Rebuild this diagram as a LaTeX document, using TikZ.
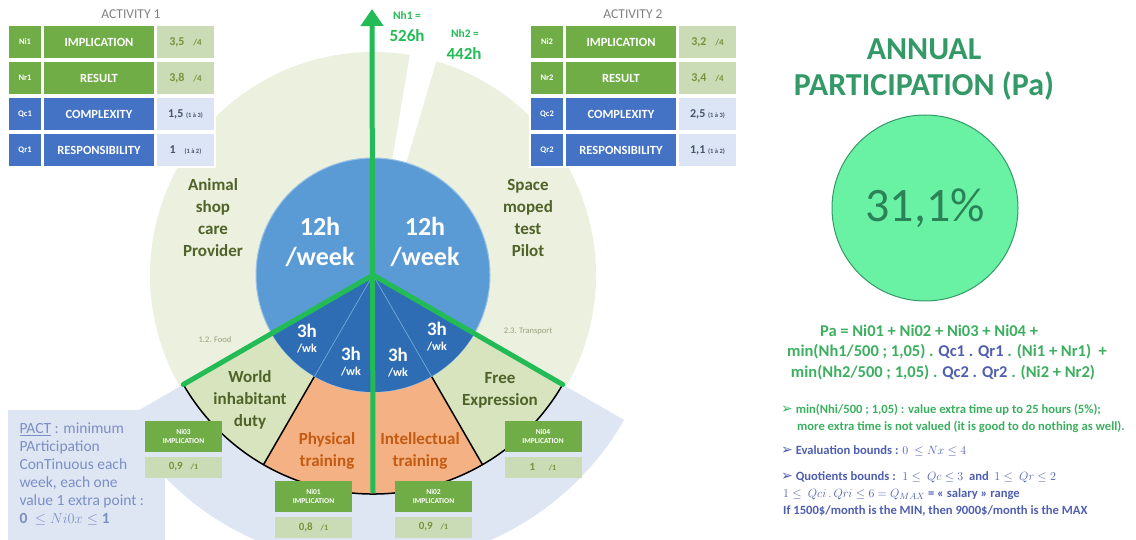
\documentclass[tikz,border=0pt]{standalone}
\usepackage{fontspec}
\setmainfont{Carlito}
\newfontfamily\symfont{DejaVu Sans}
\usetikzlibrary{arrows.meta}
\definecolor{paleolive}{HTML}{EBF1DE}
\definecolor{paleblue}{HTML}{DEE6F4}
\definecolor{midblue}{HTML}{5B9BD5}
\definecolor{deepblue}{HTML}{2E6DB4}
\definecolor{olivebg}{HTML}{D7E4BD}
\definecolor{salmon}{HTML}{F4B183}
\definecolor{brightgreen}{HTML}{22BB55}
\definecolor{tabgreen}{HTML}{70AD47}
\definecolor{tablightgreen}{HTML}{C9DCB5}
\definecolor{tabblue}{HTML}{4472C4}
\definecolor{tablightblue}{HTML}{DCE5F5}
\definecolor{olivetext}{HTML}{4F6228}
\definecolor{valtext}{HTML}{76923C}
\definecolor{bluetext}{HTML}{44546A}
\definecolor{orangetext}{HTML}{C55A11}
\definecolor{titlegreen}{HTML}{339966}
\definecolor{mint}{HTML}{6AF2A4}
\definecolor{formgreen}{HTML}{3CAF5F}
\definecolor{formblue}{HTML}{4F5FB0}
\definecolor{pactblue}{HTML}{7B8FC4}
\newcommand{\fs}[2]{\fontsize{#1}{#2}\selectfont}
\newcommand{\critrow}[9]{%
  \node[cellbox, fill=#7, minimum width=34pt, font=\bfseries\fs{8.5}{10}] (#1code) at (#2+17,#3) {#4};
  \node[cellbox, fill=#7, minimum width=112pt, font=\bfseries\fs{12.5}{14}] (#1name) at (#2+91,#3) {#5};
  \node[cellbox, fill=#8, minimum width=59pt, text=#9, font=\bfseries\fs{12}{14}] (#1val) at (#2+177.5,#3) {#6};
}
\newcommand{\nibox}[5]{%
  \node[nihead] (#1head) at (#2,#3) {#4\\IMPLICATION};
  \node[nival] (#1val) at (#2,#3-31) {#5};
}
\newcommand{\arrowbul}{{\symfont\fs{14}{14}➢}}

\begin{document}
\begin{tikzpicture}[x=1pt, y=1pt,
    cellbox/.style={rectangle, minimum height=34pt, inner sep=0pt, text=white, draw=white, line width=1.5pt},
    nihead/.style={rectangle, fill=tabgreen, minimum width=77pt, minimum height=31pt, inner sep=1pt, text=white, align=center, font=\bfseries\fs{7.5}{9}},
    nival/.style={rectangle, fill=tablightgreen, minimum width=77pt, minimum height=21pt, inner sep=1pt, text=valtext, font=\bfseries\fs{11}{13}},
    pietext/.style={align=center, text=olivetext, font=\bfseries\fs{17}{22}},
    bigwhite/.style={align=center, text=white, font=\bfseries\fs{26}{30}},
    smallwhite/.style={align=center, text=white, font=\bfseries\fs{19}{15}},
    greenline/.style={draw=brightgreen, line width=5pt},
    formula/.style={text=formgreen, font=\bfseries\fs{16.5}{18}},
    bullet/.style={anchor=west, inner sep=0pt, font=\bfseries\fs{12.6}{14}}]
\useasboundingbox (0,0) rectangle (1136,-540);

\begin{scope}[shift={(373,-275)}]
  \fill[paleblue] (0,0) -- (210:290) arc[start angle=210, end angle=330, radius=290] -- cycle;
  \fill[paleolive] (0,0) -- (-30:223) arc[start angle=-30, end angle=210, radius=223] -- cycle;
  \fill[white] (0,0) -- (73.5:235) arc[start angle=73.5, end angle=80.5, radius=235] -- cycle;
  \fill[olivebg] (0,0) -- (210:219) arc[start angle=210, end angle=240, radius=219] -- cycle;
  \fill[salmon] (0,0) -- (240:219) arc[start angle=240, end angle=300, radius=219] -- cycle;
  \fill[olivebg] (0,0) -- (300:219) arc[start angle=300, end angle=330, radius=219] -- cycle;
  \draw[line width=1.5pt] (210:219) arc[start angle=210, end angle=330, radius=219];
  \draw[line width=1.5pt] (240:117) -- (240:219) (300:117) -- (300:219);
  \fill[midblue, draw=midblue!60!white, line width=1pt] (0,0) circle[radius=117];
  \fill[deepblue] (0,0) -- (210:117) arc[start angle=210, end angle=330, radius=117] -- cycle;
  \draw[midblue!80!white, line width=0.6pt] (0,0) -- (240:117) (0,0) -- (300:117);
  \coordinate (ctr) at (0,0);
  \coordinate (wend) at (210:219);
  \coordinate (eend) at (330:219);
  \coordinate (sbot) at (270:218);
  \coordinate (stop) at (-1,266);
\end{scope}

\draw[greenline, line cap=round] (ctr) -- (wend);
\draw[greenline, line cap=round] (ctr) -- (eend);
\draw[greenline, -{Triangle[width=22pt, length=17pt]}] (sbot) -- (stop);

\node[text=brightgreen, font=\bfseries\fs{11.5}{13}] (nhone) at (407,-15) {Nh1 =};
\node[text=brightgreen, font=\bfseries\fs{17}{20}] (nhonev) at (407,-36) {526h};
\node[text=brightgreen, font=\bfseries\fs{11.5}{13}] (nhtwo) at (465,-33) {Nh2 =};
\node[text=brightgreen, font=\bfseries\fs{17}{20}] (nhtwov) at (464,-54) {442h};

\node[pietext] (animal) at (213,-218) {Animal\\shop\\care\\Provider};
\node[pietext] (space) at (528,-218) {Space\\moped\\test\\Pilot};
\node[bigwhite] (weekone) at (320,-242) {12h\\/week};
\node[bigwhite] (weektwo) at (425,-242) {12h\\/week};
\node[smallwhite] (wka) at (307,-339) {3h\\{\fs{12}{14}/wk}};
\node[smallwhite] (wkb) at (351,-362) {3h\\{\fs{12}{14}/wk}};
\node[smallwhite] (wkc) at (398,-363) {3h\\{\fs{12}{14}/wk}};
\node[smallwhite] (wkd) at (437,-337) {3h\\{\fs{12}{14}/wk}};
\node[pietext] (world) at (250,-400) {World\\inhabitant\\duty};
\node[pietext, text=orangetext] (phys) at (327,-451) {Physical\\training};
\node[pietext, text=orangetext] (intel) at (420,-451) {Intellectual\\training};
\node[pietext] (free) at (500,-390) {Free\\Expression};
\node[text=olivetext!60, font=\fs{8.5}{9}] (food) at (215,-340) {1.2. Food};
\node[text=olivetext!60, font=\fs{8.5}{9}] (transport) at (528,-331) {2.3. Transport};

\node[text=gray, font=\fs{13.5}{15}] (actone) at (131,-14) {ACTIVITY 1};
\critrow{ia}{8}{-42}{Ni1}{IMPLICATION}{3,5 \enspace{\fs{9}{10}/4}}{tabgreen}{tablightgreen}{valtext}
\critrow{ra}{8}{-78}{Nr1}{RESULT}{3,8 \enspace{\fs{9}{10}/4}}{tabgreen}{tablightgreen}{valtext}
\critrow{ca}{8}{-114}{Qc1}{COMPLEXITY}{1,5 {\fs{6.5}{7}(1 à 3)}}{tabblue}{tablightblue}{bluetext}
\critrow{qa}{8}{-150}{Qr1}{RESPONSIBILITY}{1 \enspace{\fs{6.5}{7}(1 à 2)}}{tabblue}{tablightblue}{bluetext}

\node[text=gray, font=\fs{13.5}{15}] (acttwo) at (633,-14) {ACTIVITY 2};
\critrow{ib}{530}{-42}{Ni2}{IMPLICATION}{3,2 \enspace{\fs{9}{10}/4}}{tabgreen}{tablightgreen}{valtext}
\critrow{rb}{530}{-78}{Nr2}{RESULT}{3,4 \enspace{\fs{9}{10}/4}}{tabgreen}{tablightgreen}{valtext}
\critrow{cb}{530}{-114}{Qc2}{COMPLEXITY}{2,5 {\fs{6.5}{7}(1 à 3)}}{tabblue}{tablightblue}{bluetext}
\critrow{qb}{530}{-150}{Qr2}{RESPONSIBILITY}{1,1 {\fs{6.5}{7}(1 à 2)}}{tabblue}{tablightblue}{bluetext}

\node[rectangle, fill=paleblue, anchor=north west, minimum width=157pt, minimum height=132pt, inner sep=0pt] (pactbox) at (8,-410) {};
\node[anchor=north west, align=left, text=pactblue, font=\fs{15.5}{18}] (pact) at (16,-419) {\underline{PACT} : minimum\\PArticipation\\ConTinuous each\\week, each one\\value 1 extra point :\\$\mathbf{0}\ \leq Ni0x \leq \mathbf{1}$};

\nibox{nithree}{183.5}{-436}{Ni03}{0,9 \enspace{\fs{8}{9}/1}}
\nibox{nione}{313.5}{-496}{Ni01}{0,8 \enspace{\fs{8}{9}/1}}
\nibox{nitwo}{433.5}{-496}{Ni02}{0,9 \enspace{\fs{8}{9}/1}}
\nibox{nifour}{543}{-436}{Ni04}{1 \quad{\fs{8}{9}/1}}

\node[align=center, text=titlegreen, font=\bfseries\fs{32}{36}] (title) at (924,-70) {ANNUAL\\PARTICIPATION (Pa)};
\node[circle, fill=mint, draw=titlegreen, line width=1pt, minimum size=186pt, text=titlegreen!85!black, font=\fs{48}{54}] (pa) at (925,-208) {31,1\%};

\node[formula] (fa) at (929,-331) {Pa = Ni01 + Ni02 + Ni03 + Ni04 +};
\node[formula] (fb) at (947,-352) {min(Nh1/500 ; 1,05) . \textcolor{formblue}{Qc1 . Qr1} . (Ni1 + Nr1) \ +};
\node[formula] (fc) at (943,-373) {min(Nh2/500 ; 1,05) . \textcolor{formblue}{Qc2 . Qr2} . (Ni2 + Nr2)};

\node[bullet, text=formgreen] (ba) at (781,-410) {\arrowbul\ min(Nhi/500 ; 1,05) : value extra time up to 25 hours (5\%);};
\node[bullet, text=formgreen] (bb) at (797,-427) {more extra time is not valued (it is good to do nothing as well).};
\node[bullet, text=formblue] (bc) at (781,-451) {\arrowbul\ Evaluation bounds : $0\ \leq Nx \leq 4$};
\node[bullet, text=formblue] (bd) at (781,-477) {\arrowbul\ Quotients bounds : \ $1\leq\ Qc \leq 3$ \ and \ $1 \leq\ Qr \leq 2$};
\node[bullet, text=formblue] (be) at (783,-494) {$1 \leq\ Qci\,.\,Qri \leq 6 = Q_{MAX}$ = « salary » range};
\node[bullet, text=formblue] (bf) at (783,-511) {If 1500\$/month is the MIN, then 9000\$/month is the MAX};
\end{tikzpicture}
\end{document}
